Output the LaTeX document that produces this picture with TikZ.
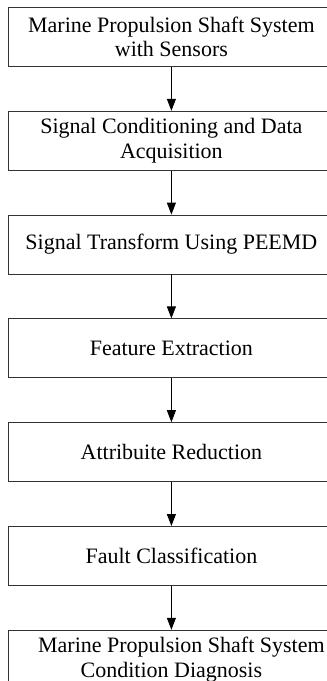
\documentclass[tikz,border=0pt]{standalone}
\usepackage{fontspec}
\setmainfont{Liberation Serif}
\usetikzlibrary{positioning, arrows.meta}

\begin{document}
\begin{tikzpicture}[
            x=1pt, y=1pt,
            node distance=44pt,
            stage/.style={rectangle, draw=black!80, line width=0.8pt, minimum width=326pt, minimum height=59pt, inner sep=2pt, align=center, font=\fontsize{22}{24.5}\selectfont},
            flow/.style={-{Triangle[width=9pt,length=12pt]}, line width=1pt}
        ]
            \useasboundingbox (0,0) rectangle (327,-681);
            \clip (0,0) rectangle (327,-681);

            % --- Processing stages ---
            \node[stage, anchor=north west] (shaft) at (8,-7) {Marine Propulsion Shaft System\\with Sensors};
            \node[stage, below=of shaft] (acq) {Signal Conditioning and Data\\Acquisition};
            \node[stage, below=of acq] (peemd) {Signal Transform Using PEEMD};
            \node[stage, below=of peemd] (feat) {Feature Extraction};
            \node[stage, below=of feat] (reduce) {Attribuite Reduction};
            \node[stage, below=of reduce] (classify) {Fault Classification};
            \node[stage, below=of classify] (diagnosis) {\hspace*{20pt}Marine Propulsion Shaft System\\Condition Diagnosis};

            % --- Flow arrows ---
            \draw[flow] (shaft) -- (acq);
            \draw[flow] (acq) -- (peemd);
            \draw[flow] (peemd) -- (feat);
            \draw[flow] (feat) -- (reduce);
            \draw[flow] (reduce) -- (classify);
            \draw[flow] (classify) -- (diagnosis);
        \end{tikzpicture}
\end{document}
